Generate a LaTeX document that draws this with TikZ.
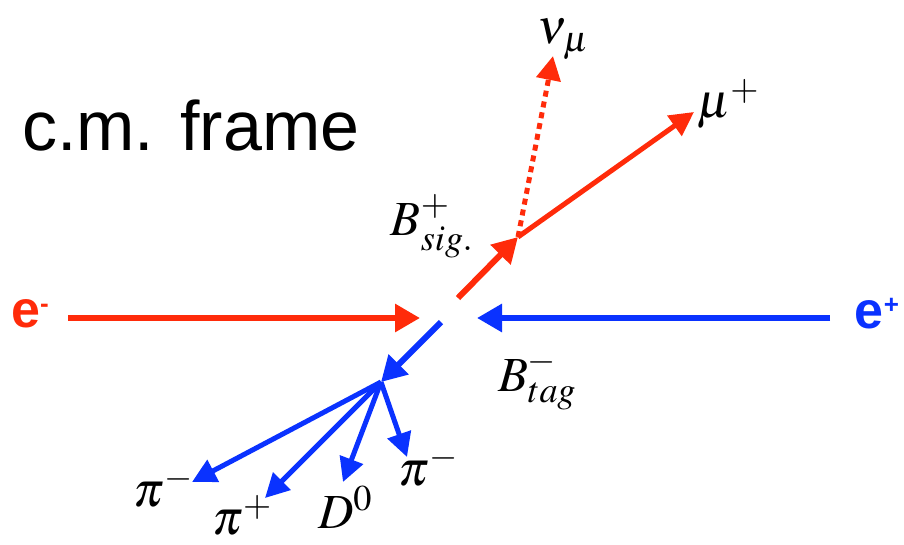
\documentclass[tikz,border=0pt]{standalone}
\usepackage{mathptmx}
\usepackage[no-math]{fontspec}
\setsansfont{Liberation Sans}
\usepackage{tikz}
\usetikzlibrary{arrows.meta,calc}
\definecolor{ured}{HTML}{FF2B0A}
\definecolor{ublu}{HTML}{0A32FF}
\newcommand{\esup}[1]{\raisebox{15pt}{\fontsize{26}{30}\selectfont #1}}
\tikzset{
  beam/.style  ={-{Triangle[length=25pt,width=27pt]}, line width=6pt},
  track/.style ={-{Triangle[length=24pt,width=24pt]}, line width=5pt},
  nutrk/.style ={track, dash pattern=on 6pt off 5pt},
  plab/.style  ={font=\fontsize{49}{58}\selectfont, inner sep=0pt},
  elab/.style  ={font=\fontsize{52}{60}\selectfont\sffamily\bfseries, inner sep=0pt},
}

\begin{document}
\begin{tikzpicture}[x=1pt,y=-1pt]
  \useasboundingbox (0,0) rectangle (904,544);

  % beams and decay vertices
  \coordinate (emin) at (68,318);
  \coordinate (emax) at (420,318);
  \coordinate (pmin) at (830,318);
  \coordinate (pmax) at (477,318);
  \coordinate (bsig) at (458,298);
  \coordinate (vsig) at (518,237);
  \coordinate (btag) at (441,322);
  \coordinate (vtag) at (381,382);

  \node[font=\fontsize{70}{84}\selectfont\sffamily, anchor=base west, inner sep=0pt] (title) at (22,150) {c.m. frame};
  \node[elab, text=ured] (elec) at (30,314) {e\esup{-}};
  \node[elab, text=ublu] (posi) at (877,314) {e\esup{+}};

  \draw[beam, ured] (emin) -- (emax);
  \draw[beam, ublu] (pmin) -- (pmax);

  % signal side
  \coordinate (mutip) at (694,112);
  \coordinate (nutip) at (553,56);
  \draw[beam, ured] (bsig) -- (vsig);
  \draw[track, ured] (vsig) -- (mutip);
  \draw[nutrk, ured] (vsig) -- (nutip);
  \node[plab] (lsig) at (432,226) {$B^+_{sig.}$};
  \node[plab] (lmu) at (728,104) {$\mu^+$};
  \node[plab] (lnu) at (563,39) {$\nu_\mu$};

  % tag side
  \coordinate (pa) at (192,482);
  \coordinate (pb) at (265,498);
  \coordinate (dz) at (343,482);
  \coordinate (pc) at (407,457);
  \draw[beam, ublu] (btag) -- (vtag);
  \foreach \t in {pa,pb,dz,pc}
    \draw[track, ublu] (vtag) -- (\t);
  \node[plab] (ltag) at (537,380) {$B^-_{tag}$};
  \node[plab] (lpa) at (163,487) {$\pi^-$};
  \node[plab] (lpb) at (242,515) {$\pi^+$};
  \node[plab] (ldz) at (345,507) {$D^0$};
  \node[plab] (lpc) at (428,466) {$\pi^-$};
\end{tikzpicture}
\end{document}
